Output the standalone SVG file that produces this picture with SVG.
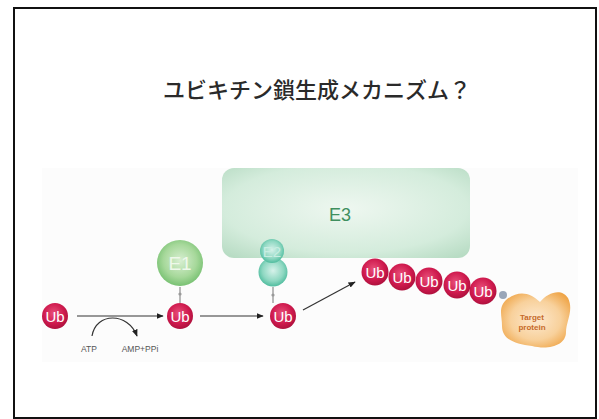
<svg xmlns="http://www.w3.org/2000/svg" width="599" height="419" viewBox="0 0 599 419">
  <defs>
    <radialGradient id="gUb" cx="0.45" cy="0.4" r="0.65">
      <stop offset="0" stop-color="#e8507a"/>
      <stop offset="0.6" stop-color="#cf1a4e"/>
      <stop offset="1" stop-color="#a80f3a"/>
    </radialGradient>
    <radialGradient id="gE1" cx="0.5" cy="0.45" r="0.6">
      <stop offset="0" stop-color="#d8efd2"/>
      <stop offset="0.6" stop-color="#a6d89a"/>
      <stop offset="1" stop-color="#6cbb68"/>
    </radialGradient>
    <radialGradient id="gE2" cx="0.5" cy="0.45" r="0.6">
      <stop offset="0" stop-color="#d6f2ea"/>
      <stop offset="0.6" stop-color="#8fd8c2"/>
      <stop offset="1" stop-color="#3fb595"/>
    </radialGradient>
    <radialGradient id="gE3" cx="0.5" cy="0.45" r="0.7">
      <stop offset="0" stop-color="#eef7f0"/>
      <stop offset="0.7" stop-color="#d4ecdc"/>
      <stop offset="1" stop-color="#b8dcc4"/>
    </radialGradient>
    <radialGradient id="gTP" cx="0.5" cy="0.5" r="0.6">
      <stop offset="0" stop-color="#fde9cf"/>
      <stop offset="0.6" stop-color="#f8d19c"/>
      <stop offset="1" stop-color="#efa548"/>
    </radialGradient>
    <marker id="ah" viewBox="0 0 10 10" refX="9" refY="5" markerWidth="6" markerHeight="6" orient="auto">
      <path d="M0,1 L10,5 L0,9 z" fill="#222"/>
    </marker>
    <style>
      .ub { fill: url(#gUb); }
      .ubt { font-family: "Liberation Sans", Arial, sans-serif; font-size: 15px; fill: #ffffff; text-anchor: middle; }
      .lbl { font-family: "Liberation Sans", Arial, sans-serif; font-size: 8.5px; fill: #555555; text-anchor: middle; }
      .arr { stroke: #333333; stroke-width: 1.2; fill: none; marker-end: url(#ah); }
      .link { stroke: #777777; stroke-width: 1; }
    </style>
  </defs>

  <!-- slide background and frame -->
  <rect x="0" y="0" width="599" height="419" fill="#ffffff"/>
  <rect x="14" y="8" width="582" height="410" fill="#ffffff" stroke="#111111" stroke-width="2"/>

  <!-- title -->
  <text x="317" y="98" font-family="'Noto Sans CJK JP', 'Noto Sans', sans-serif" font-size="22" font-weight="500" fill="#2a2a2a" text-anchor="middle">ユビキチン鎖生成メカニズム？</text>

  <!-- figure panel -->
  <rect x="42" y="168" width="536" height="194" fill="#fcfcfc"/>

  <!-- E3 ligase -->
  <g id="e3">
    <rect x="222" y="168" width="248" height="90" rx="12" fill="url(#gE3)"/>
    <text x="340" y="221" font-family="'Liberation Sans', Arial, sans-serif" font-size="18" fill="#3f8f5e" text-anchor="middle">E3</text>
  </g>

  <!-- connectors -->
  <g id="connectors">
    <line class="arr" x1="77" y1="316" x2="163" y2="316"/>
    <line class="arr" x1="200" y1="316" x2="263" y2="316"/>
    <line class="arr" x1="303" y1="310" x2="355" y2="282"/>
    <path class="arr" d="M92,336 C96,312 128,312 137,336"/>
    <line class="link" x1="180" y1="287" x2="180" y2="303"/>
    <circle cx="180" cy="294" r="1.6" fill="#999999"/>
    <line class="link" x1="273" y1="287" x2="273" y2="303"/>
    <circle cx="273" cy="295" r="1.6" fill="#999999"/>
  </g>

  <!-- free ubiquitin -->
  <g id="ub1">
    <circle class="ub" cx="55" cy="316" r="13"/>
    <text class="ubt" x="55" y="321.5">Ub</text>
  </g>
  <g id="atp">
    <text class="lbl" x="89" y="352">ATP</text>
  </g>
  <g id="amp">
    <text class="lbl" x="140" y="352">AMP+PPi</text>
  </g>

  <!-- E1 with ubiquitin -->
  <g id="e1">
    <circle cx="180" cy="263" r="23" fill="url(#gE1)"/>
    <text x="180" y="270" font-family="'Liberation Sans', Arial, sans-serif" font-size="19" fill="#eef8ea" text-anchor="middle">E1</text>
  </g>
  <g id="ub2">
    <circle class="ub" cx="180" cy="316" r="13"/>
    <text class="ubt" x="180" y="321.5">Ub</text>
  </g>

  <!-- E2 with ubiquitin -->
  <g id="e2">
    <circle cx="273" cy="272" r="14.5" fill="url(#gE2)"/>
    <circle cx="272" cy="251" r="12" fill="url(#gE2)"/>
    <text x="272" y="257" font-family="'Liberation Sans', Arial, sans-serif" font-size="15" fill="#c8eee2" text-anchor="middle">E2</text>
  </g>
  <g id="ub3">
    <circle class="ub" cx="283" cy="316" r="13"/>
    <text class="ubt" x="283" y="321.5">Ub</text>
  </g>

  <!-- target protein with polyubiquitin chain -->
  <g id="target">
    <path d="M506,300 C518,290 530,292 540,302 C548,292 562,288 568,298 C574,310 566,322 566,332 C566,346 548,350 532,346 C516,344 502,340 502,326 C502,316 498,308 506,300 z" fill="url(#gTP)"/>
    <text x="532" y="320" font-family="'Liberation Sans', Arial, sans-serif" font-size="8" font-weight="bold" fill="#c66a2a" text-anchor="middle">Target</text>
    <text x="532" y="330" font-family="'Liberation Sans', Arial, sans-serif" font-size="8" font-weight="bold" fill="#c66a2a" text-anchor="middle">protein</text>
  </g>
  <g id="chain">
    <circle cx="503" cy="295" r="4" fill="#9aa6b8"/>
    <circle class="ub" cx="483" cy="291" r="13.5"/>
    <text class="ubt" x="483" y="296.5">Ub</text>
    <circle class="ub" cx="457" cy="285" r="13.5"/>
    <text class="ubt" x="457" y="290.5">Ub</text>
    <circle class="ub" cx="429" cy="281" r="13.5"/>
    <text class="ubt" x="429" y="286.5">Ub</text>
    <circle class="ub" cx="402" cy="277" r="13.5"/>
    <text class="ubt" x="402" y="282.5">Ub</text>
    <circle class="ub" cx="375" cy="272" r="13.5"/>
    <text class="ubt" x="375" y="277.5">Ub</text>
  </g>
</svg>
